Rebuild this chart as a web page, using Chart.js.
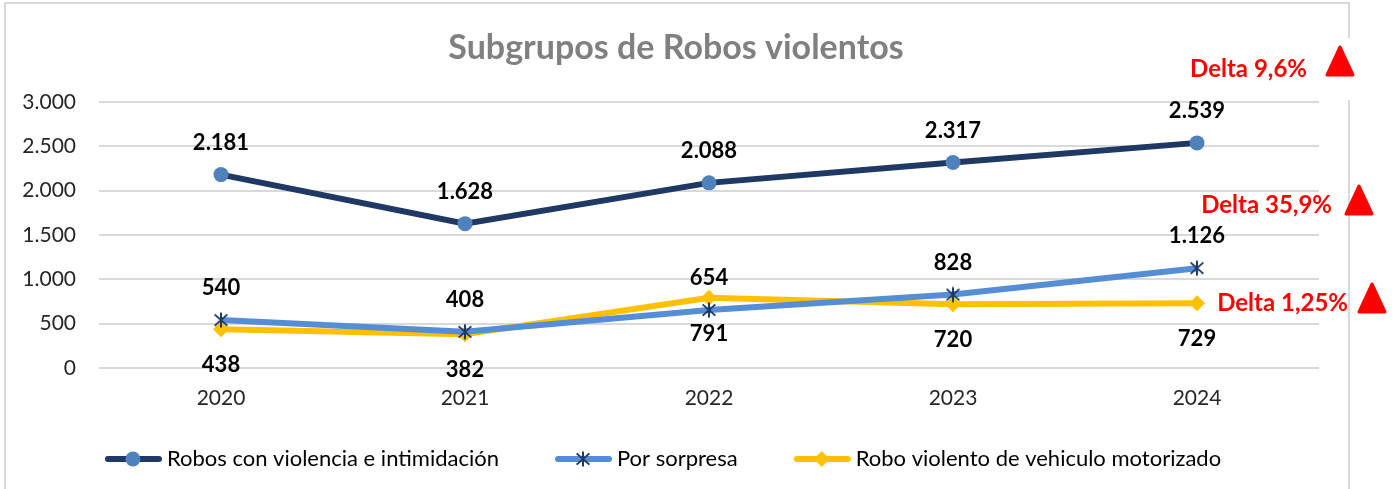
<!DOCTYPE html>
<html>
<head>
<meta charset="utf-8">
<script src="https://cdn.jsdelivr.net/npm/chart.js@4/dist/chart.umd.min.js"></script>
<style>
  html, body { margin: 0; padding: 0; background: #fff; }
  canvas { display: block; }
</style>
</head>
<body>
<canvas id="grafico" width="1398" height="489"></canvas>
<script>
// datos
var anios = ['2020', '2021', '2022', '2023', '2024'];
var robosViolencia = [2181, 1628, 2088, 2317, 2539];
var porSorpresa = [540, 408, 654, 828, 1126];
var roboVehiculo = [438, 382, 791, 720, 729];
var nombres = ['Robos con violencia e intimidación', 'Por sorpresa', 'Robo violento de vehiculo motorizado'];
var deltas = ['Delta 9,6%', 'Delta 35,9%', 'Delta 1,25%'];
var titulo = 'Subgrupos de Robos violentos';

var azulOscuro = '#1f3864';
var azulClaro = '#558ed5';
var amarillo = '#ffc000';
var FUENTE = 'Lato, "Open Sans", sans-serif';

function miles(v) {
    return String(v).replace(/\B(?=(\d{3})+(?!\d))/g, '.');
}

// marcador asterisco (x con linea vertical)
function estrella(tam) {
    var c = document.createElement('canvas');
    c.width = tam; c.height = tam;
    var g = c.getContext('2d');
    g.strokeStyle = azulOscuro;
    g.lineWidth = 2;
    var m = tam / 2, r = tam / 2 - 1.5;
    g.beginPath();
    g.moveTo(m - r * 0.85, m - r * 0.75); g.lineTo(m + r * 0.85, m + r * 0.75);
    g.moveTo(m + r * 0.85, m - r * 0.75); g.lineTo(m - r * 0.85, m + r * 0.75);
    g.moveTo(m, m - r); g.lineTo(m, m + r);
    g.stroke();
    return c;
}

// simbolos de la leyenda: hueco transparente + linea + marcador
function simbolo(color, tipo) {
    var c = document.createElement('canvas');
    c.width = 94; c.height = 20;
    var g = c.getContext('2d');
    var x0 = 40, x1 = 91, mx = 65, my = 10;
    g.strokeStyle = color;
    g.lineWidth = 6;
    g.lineCap = 'round';
    g.beginPath(); g.moveTo(x0, my); g.lineTo(x1, my); g.stroke();
    if (tipo == 'circulo') {
        g.fillStyle = '#4f81bd';
        g.beginPath(); g.arc(mx, my, 7.5, 0, Math.PI * 2); g.fill();
    } else if (tipo == 'estrella') {
        g.drawImage(estrella(18), mx - 9, my - 9);
    } else {
        g.fillStyle = amarillo;
        g.beginPath(); g.moveTo(mx, my - 8); g.lineTo(mx + 8, my); g.lineTo(mx, my + 8); g.lineTo(mx - 8, my); g.closePath(); g.fill();
    }
    return c;
}
var simbolos = [simbolo(azulOscuro, 'circulo'), simbolo(azulClaro, 'estrella'), simbolo(amarillo, 'rombo')];

var desplazamientos = [-32, -32, 36];

var etiquetas = {
    id: 'etiquetas',
    beforeDraw: function(chart) {
        var ctx = chart.ctx;
        ctx.save();
        ctx.strokeStyle = '#d9d9d9';
        ctx.lineWidth = 2;
        ctx.beginPath();
        ctx.moveTo(5, 489); ctx.lineTo(5, 3); ctx.lineTo(1349, 3); ctx.lineTo(1349, 38);
        ctx.moveTo(1349, 100); ctx.lineTo(1349, 489);
        ctx.stroke();
        ctx.fillStyle = '#808080';
        ctx.font = 'bold 34px ' + FUENTE;
        ctx.textAlign = 'center';
        ctx.textBaseline = 'middle';
        ctx.fillText(titulo, 676, 48);
        ctx.restore();
    },
    afterDatasetsDraw: function(chart) {
        var ctx = chart.ctx;
        ctx.save();
        ctx.font = 'bold 22px ' + FUENTE;
        ctx.fillStyle = '#000';
        ctx.textAlign = 'center';
        ctx.textBaseline = 'middle';
        chart.data.datasets.forEach(function(ds, i) {
            var meta = chart.getDatasetMeta(i);
            meta.data.forEach(function(p, j) {
                ctx.fillText(miles(ds.data[j]), p.x, p.y + desplazamientos[i]);
            });
        });
        // deltas
        var pos = [[1307, 69, 1340, 47], [1332, 205, 1359, 186], [1348, 303, 1372, 284]];
        ctx.font = 'bold 24px ' + FUENTE;
        ctx.textAlign = 'right';
        deltas.forEach(function(t, i) {
            var q = pos[i];
            ctx.fillStyle = '#ff0000';
            ctx.fillText(t, q[0], q[1]);
            ctx.beginPath();
            ctx.moveTo(q[2], q[3]);
            ctx.lineTo(q[2] + 13, q[3] + 28);
            ctx.lineTo(q[2] - 13, q[3] + 28);
            ctx.closePath();
            ctx.lineJoin = 'round';
            ctx.lineWidth = 3;
            ctx.strokeStyle = '#ff0000';
            ctx.fill();
            ctx.stroke();
        });
        ctx.restore();
    }
};

var ctx = document.getElementById('grafico');
new Chart(ctx, {
    type: 'line',
    data: {
        labels: anios,
        datasets: [
            {
                label: nombres[0],
                data: robosViolencia,
                borderColor: azulOscuro,
                borderWidth: 6,
                pointStyle: 'circle',
                pointRadius: 7.5,
                pointBackgroundColor: '#4f81bd',
                pointBorderColor: '#4f81bd',
                pointBorderWidth: 0
            },
            {
                label: nombres[1],
                data: porSorpresa,
                borderColor: azulClaro,
                borderWidth: 6,
                pointStyle: estrella(18),
                pointRadius: 9
            },
            {
                label: nombres[2],
                data: roboVehiculo,
                borderColor: amarillo,
                borderWidth: 6,
                pointStyle: 'rectRot',
                pointRadius: 8,
                pointBackgroundColor: amarillo,
                pointBorderColor: amarillo,
                pointBorderWidth: 0
            }
        ]
    },
    options: {
        responsive: false,
        animation: false,
        devicePixelRatio: 1,
        layout: { padding: { left: -24, right: 79, top: 102, bottom: 9 } },
        scales: {
            x: {
                offset: true,
                grid: { display: false },
                border: { display: false },
                ticks: { color: '#262626', font: { family: FUENTE, size: 21 }, padding: 10 },
                afterFit: function(s) { s.height = 55; }
            },
            y: {
                min: 0,
                max: 3000,
                grid: { color: '#d9d9d9', lineWidth: 2, drawTicks: false },
                border: { display: false },
                ticks: {
                    stepSize: 500,
                    color: '#262626',
                    font: { family: FUENTE, size: 21 },
                    padding: 23,
                    callback: function(v) { return miles(v); }
                },
                afterFit: function(s) { s.width = 123; }
            }
        },
        plugins: {
            title: { display: false },
            tooltip: { enabled: false },
            legend: {
                position: 'bottom',
                labels: {
                    usePointStyle: true,
                    pointStyleWidth: 82,
                    padding: 25,
                    color: '#000',
                    font: { family: FUENTE, size: 22 },
                    generateLabels: function(chart) {
                        return chart.data.datasets.map(function(ds, i) {
                            return { text: ds.label, pointStyle: simbolos[i], fontColor: '#000', datasetIndex: i, lineWidth: 0, strokeStyle: 'rgba(0,0,0,0)', fillStyle: 'rgba(0,0,0,0)' };
                        });
                    }
                }
            }
        }
    },
    plugins: [etiquetas]
});
</script>
</body>
</html>
